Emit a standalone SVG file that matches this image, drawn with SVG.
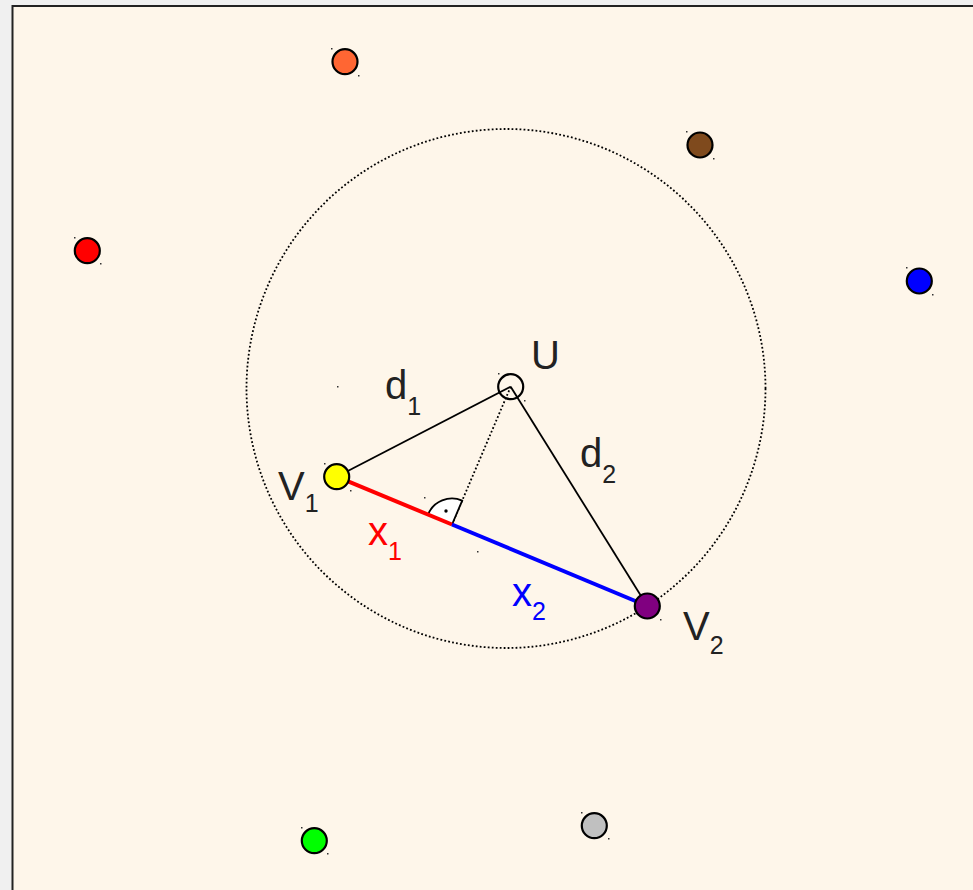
<svg xmlns="http://www.w3.org/2000/svg" width="973" height="890" viewBox="0 0 973 890">
<defs>
<style>
.pt{stroke:#000;stroke-width:2.2}
.sp{fill:#333}
.lbl{font-family:"Liberation Sans",Arial,sans-serif;font-size:40px;fill:#222}
.sub{font-size:25px}
.edge{stroke:#000;stroke-width:1.8;fill:none}
.dot{stroke:#000;stroke-width:1.8;fill:none;stroke-dasharray:1.8 2.2}
</style>
</defs>
<rect x="0" y="0" width="973" height="890" fill="#f0f0f0"/>
<rect x="12.5" y="6" width="970" height="900" fill="#fef6ea" stroke="#222" stroke-width="2"/>
<g id="connectors">
<circle cx="506" cy="388.5" r="259.5" class="dot"/>
<line x1="336.7" y1="476.7" x2="510.7" y2="386.7" class="edge"/>
<line x1="510.7" y1="386.7" x2="647.3" y2="606" class="edge"/>
<line x1="510.7" y1="386.7" x2="452" y2="524.5" class="dot"/>
<path d="M452,524.5 L428,514.5 A26,26 0 0,1 462.2,500.6 Z" fill="#fff" stroke="#000" stroke-width="1.8"/>
<circle cx="446" cy="511" r="1.7" fill="#000"/>
<line x1="336.7" y1="476.7" x2="452" y2="524.5" stroke="#ff0000" stroke-width="4"/>
<line x1="452" y1="524.5" x2="647.3" y2="606" stroke="#0000ff" stroke-width="4"/>
<rect x="337" y="386" width="1.5" height="1.5" class="sp"/>
<rect x="477" y="551" width="1.5" height="1.5" class="sp"/>
<rect x="424" y="497" width="1.5" height="1.5" class="sp"/>
<text class="lbl" x="385" y="399">d<tspan class="sub" dy="16">1</tspan></text>
<text class="lbl" x="580" y="467">d<tspan class="sub" dy="16">2</tspan></text>
<text class="lbl" x="368" y="545" style="fill:#ff0000">x<tspan class="sub" dy="15">1</tspan></text>
<text class="lbl" x="512" y="606" style="fill:#0000ff">x<tspan class="sub" dy="14">2</tspan></text>
</g>
<g id="node-U">
<circle cx="510.7" cy="386.7" r="12.5" fill="none" class="pt"/>
<rect x="498" y="373" width="1.5" height="1.5" class="sp"/><rect x="524" y="400" width="1.5" height="1.5" class="sp"/>
<text class="lbl" x="531" y="369">U</text>
</g>
<g id="node-V1">
<circle cx="336.7" cy="476.7" r="12.5" fill="#ffff00" class="pt"/>
<rect x="324" y="463" width="1.5" height="1.5" class="sp"/><rect x="350" y="490" width="1.5" height="1.5" class="sp"/>
<text class="lbl" x="278" y="500">V<tspan class="sub" dy="12">1</tspan></text>
</g>
<g id="node-V2">
<circle cx="647.3" cy="606" r="12.5" fill="#800080" class="pt"/>
<rect x="660" y="619" width="1.5" height="1.5" class="sp"/>
<text class="lbl" x="683" y="640">V<tspan class="sub" dy="14">2</tspan></text>
</g>
<g id="node-orange">
<circle cx="345" cy="61.7" r="12.5" fill="#ff6633" class="pt"/>
<rect x="331" y="48" width="1.5" height="1.5" class="sp"/><rect x="358" y="75" width="1.5" height="1.5" class="sp"/>
</g>
<g id="node-brown">
<circle cx="700" cy="145" r="12.5" fill="#7f4a1d" class="pt"/>
<rect x="686" y="131" width="1.5" height="1.5" class="sp"/><rect x="713" y="158" width="1.5" height="1.5" class="sp"/>
</g>
<g id="node-red">
<circle cx="87.3" cy="250.7" r="12.5" fill="#ff0000" class="pt"/>
<rect x="74" y="237" width="1.5" height="1.5" class="sp"/><rect x="100" y="263" width="1.5" height="1.5" class="sp"/>
</g>
<g id="node-blue">
<circle cx="919.3" cy="281" r="12.5" fill="#0000ff" class="pt"/>
<rect x="906" y="267" width="1.5" height="1.5" class="sp"/><rect x="932" y="294" width="1.5" height="1.5" class="sp"/>
</g>
<g id="node-green">
<circle cx="314.3" cy="840.7" r="12.5" fill="#00ff00" class="pt"/>
<rect x="301" y="827" width="1.5" height="1.5" class="sp"/><rect x="327" y="853" width="1.5" height="1.5" class="sp"/>
</g>
<g id="node-gray">
<circle cx="594.3" cy="825.7" r="12.5" fill="#c0c0c0" class="pt"/>
<rect x="581" y="812" width="1.5" height="1.5" class="sp"/><rect x="608" y="838" width="1.5" height="1.5" class="sp"/>
</g>
</svg>
